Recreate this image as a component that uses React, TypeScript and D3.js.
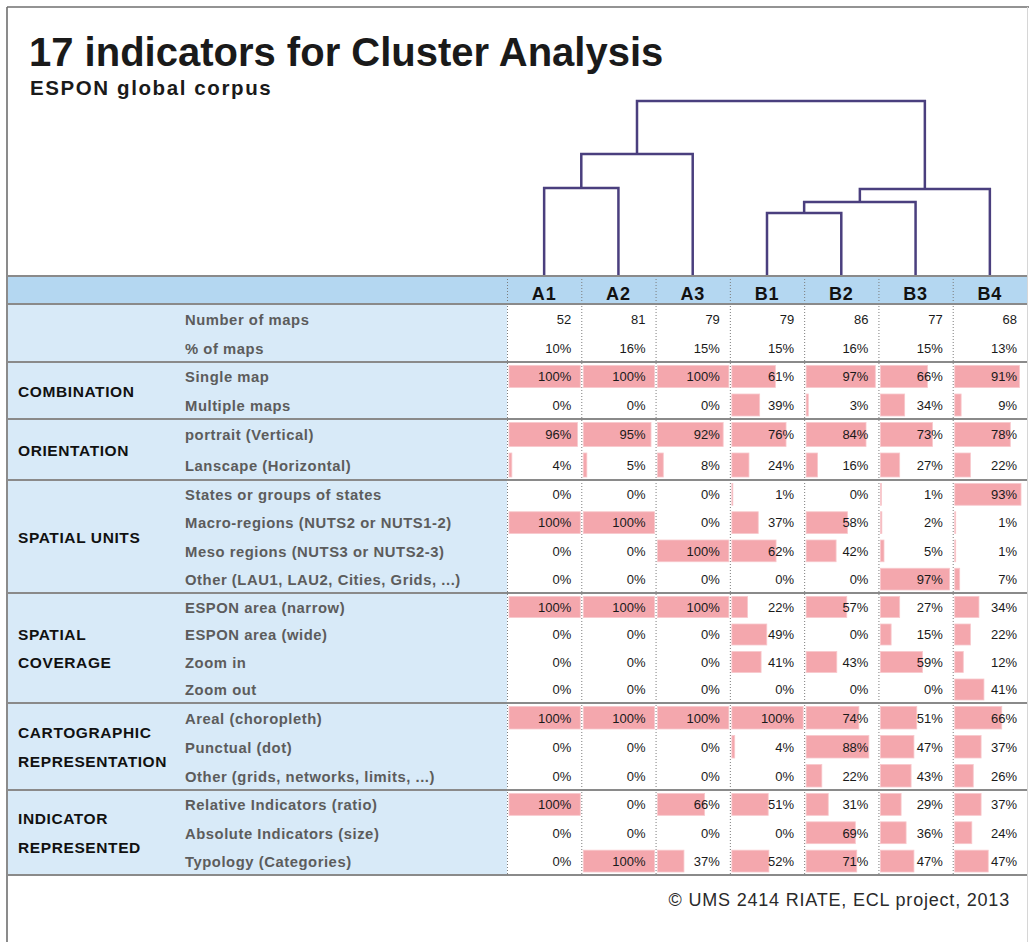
import React from "react";
import * as d3 from "d3";

// ---------- DATA ----------
const CLUSTERS = ["A1", "A2", "A3", "B1", "B2", "B3", "B4"];

const NUMBER_OF_MAPS = [52, 81, 79, 79, 86, 77, 68];
const SHARE_OF_MAPS = [10, 16, 15, 15, 16, 15, 13];

const SINGLE_MAP = [100, 100, 100, 61, 97, 66, 91];
const MULTIPLE_MAPS = [0, 0, 0, 39, 3, 34, 9];

const PORTRAIT = [96, 95, 92, 76, 84, 73, 78];
const LANDSCAPE = [4, 5, 8, 24, 16, 27, 22];

const STATES = [0, 0, 0, 1, 0, 1, 93];
const MACRO_REGIONS = [100, 100, 0, 37, 58, 2, 1];
const MESO_REGIONS = [0, 0, 100, 62, 42, 5, 1];
const OTHER_UNITS = [0, 0, 0, 0, 0, 97, 7];

const ESPON_NARROW = [100, 100, 100, 22, 57, 27, 34];
const ESPON_WIDE = [0, 0, 0, 49, 0, 15, 22];
const ZOOM_IN = [0, 0, 0, 41, 43, 59, 12];
const ZOOM_OUT = [0, 0, 0, 0, 0, 0, 41];

const AREAL = [100, 100, 100, 100, 74, 51, 66];
const PUNCTUAL = [0, 0, 0, 4, 88, 47, 37];
const OTHER_REPR = [0, 0, 0, 0, 22, 43, 26];

const RELATIVE = [100, 0, 66, 51, 31, 29, 37];
const ABSOLUTE = [0, 0, 0, 0, 69, 36, 24];
const TYPOLOGY = [0, 100, 37, 52, 71, 47, 47];

type Row = { label: string; values: number[]; kind: "count" | "share" | "bar" };
type Group = { title: string[]; rows: Row[] };

const GROUPS: Group[] = [
  {
    title: [],
    rows: [
      { label: "Number of maps", values: NUMBER_OF_MAPS, kind: "count" },
      { label: "% of maps", values: SHARE_OF_MAPS, kind: "share" },
    ],
  },
  {
    title: ["COMBINATION"],
    rows: [
      { label: "Single map", values: SINGLE_MAP, kind: "bar" },
      { label: "Multiple maps", values: MULTIPLE_MAPS, kind: "bar" },
    ],
  },
  {
    title: ["ORIENTATION"],
    rows: [
      { label: "portrait (Vertical)", values: PORTRAIT, kind: "bar" },
      { label: "Lanscape (Horizontal)", values: LANDSCAPE, kind: "bar" },
    ],
  },
  {
    title: ["SPATIAL UNITS"],
    rows: [
      { label: "States or groups of states", values: STATES, kind: "bar" },
      { label: "Macro-regions (NUTS2 or NUTS1-2)", values: MACRO_REGIONS, kind: "bar" },
      { label: "Meso regions (NUTS3 or  NUTS2-3)", values: MESO_REGIONS, kind: "bar" },
      { label: "Other (LAU1, LAU2, Cities, Grids, ...)", values: OTHER_UNITS, kind: "bar" },
    ],
  },
  {
    title: ["SPATIAL", "COVERAGE"],
    rows: [
      { label: "ESPON area (narrow)", values: ESPON_NARROW, kind: "bar" },
      { label: "ESPON area (wide)", values: ESPON_WIDE, kind: "bar" },
      { label: "Zoom in", values: ZOOM_IN, kind: "bar" },
      { label: "Zoom out", values: ZOOM_OUT, kind: "bar" },
    ],
  },
  {
    title: ["CARTOGRAPHIC", "REPRESENTATION"],
    rows: [
      { label: "Areal (choropleth)", values: AREAL, kind: "bar" },
      { label: "Punctual (dot)", values: PUNCTUAL, kind: "bar" },
      { label: "Other (grids, networks, limits, ...)", values: OTHER_REPR, kind: "bar" },
    ],
  },
  {
    title: ["INDICATOR", "REPRESENTED"],
    rows: [
      { label: "Relative Indicators (ratio)", values: RELATIVE, kind: "bar" },
      { label: "Absolute Indicators (size)", values: ABSOLUTE, kind: "bar" },
      { label: "Typology (Categories)", values: TYPOLOGY, kind: "bar" },
    ],
  },
];

// Dendrogram: merge heights (distance units)
type DNode = { name?: string; height?: number; children?: DNode[] };
const DENDROGRAM: DNode = {
  height: 174,
  children: [
    { height: 121, children: [{ height: 87, children: [{ name: "A1" }, { name: "A2" }] }, { name: "A3" }] },
    {
      height: 86,
      children: [
        { height: 73, children: [{ height: 62, children: [{ name: "B1" }, { name: "B2" }] }, { name: "B3" }] },
        { name: "B4" },
      ],
    },
  ],
};

const TITLE = "17 indicators for Cluster Analysis";
const SUBTITLE = "ESPON global corpus";
const SOURCE = "© UMS 2414 RIATE, ECL project, 2013";

// ---------- LAYOUT ----------
const W = 1029;
const H = 942;
const FONT = "'Liberation Sans', Arial, sans-serif";
const TABLE_LEFT = 8;
const COL_START = 507;
const COL_END = 1027;
const HEADER_TOP = 276;
const HEADER_BOTTOM = 304;
const DENDRO_TOP = 101;
// pixel height of each group block in the table (layout only)
const GROUP_HEIGHTS = [58, 57, 61, 113, 110, 87, 85];

export default function App() {
  const x = d3.scaleBand<string>().domain(CLUSTERS).range([COL_START, COL_END]);
  const bw = d3.scaleLinear().domain([0, 100]).range([0, x.bandwidth() - 3]);

  const groupTops = [HEADER_BOTTOM, ...d3.cumsum(GROUP_HEIGHTS).map((v) => HEADER_BOTTOM + v)];
  const BODY_BOTTOM = groupTops[groupTops.length - 1];

  // dendrogram
  const root = d3.hierarchy<DNode>(DENDROGRAM);
  const hy = d3.scaleLinear().domain([0, DENDROGRAM.height as number]).range([HEADER_TOP - 1, DENDRO_TOP]);
  const posX = new Map<any, number>();
  const posY = new Map<any, number>();
  root.eachAfter((n) => {
    if (!n.children) {
      posX.set(n, (x(n.data.name as string) as number) + x.bandwidth() / 2);
      posY.set(n, hy(0));
    } else {
      posX.set(n, d3.mean(n.children, (c) => posX.get(c) as number) as number);
      posY.set(n, hy(n.data.height as number));
    }
  });
  const dendroPaths: string[] = [];
  root.each((n) => {
    if (!n.children) return;
    const [a, b] = n.children;
    const p = d3.path();
    p.moveTo(posX.get(a)!, posY.get(a)!);
    p.lineTo(posX.get(a)!, posY.get(n)!);
    p.lineTo(posX.get(b)!, posY.get(n)!);
    p.lineTo(posX.get(b)!, posY.get(b)!);
    dendroPaths.push(p.toString());
  });

  return (
    <svg
      width={W}
      height={H}
      style={{ position: "absolute", left: 0, top: 0, background: "#fff" }}
      fontFamily={FONT}
    >
      <rect x={0} y={0} width={W} height={H} fill="#fff" />
      {/* frame */}
      <line x1={7} y1={7} x2={W} y2={7} stroke="#6f6f6f" strokeWidth={1.6} />
      <line x1={7} y1={7} x2={7} y2={H} stroke="#6f6f6f" strokeWidth={1.6} />
      <line x1={COL_END + 0.5} y1={7} x2={COL_END + 0.5} y2={H} stroke="#d6d6d6" strokeWidth={1} />

      {/* titles */}
      <text x={29} y={66} fontSize={40} fontWeight="bold" fill="#1a1a1a">
        {TITLE}
      </text>
      <text x={30} y={95} fontSize={20.5} fontWeight="bold" fill="#1a1a1a" letterSpacing={1.6}>
        {SUBTITLE}
      </text>

      {/* dendrogram */}
      {dendroPaths.map((d, i) => (
        <path key={i} d={d} fill="none" stroke="#4a3f7e" strokeWidth={2.5} />
      ))}

      {/* header row */}
      <rect x={TABLE_LEFT} y={HEADER_TOP} width={COL_END - TABLE_LEFT} height={HEADER_BOTTOM - HEADER_TOP} fill="#b4d7f1" />
      {CLUSTERS.map((c) => (
        <text
          key={c}
          x={(x(c) as number) + x.bandwidth() / 2}
          y={HEADER_BOTTOM - 4}
          textAnchor="middle"
          fontSize={18}
          fontWeight="bold"
          letterSpacing={0.8}
          fill="#111"
        >
          {c}
        </text>
      ))}

      {/* left blue label area */}
      <rect x={TABLE_LEFT} y={HEADER_BOTTOM} width={COL_START - TABLE_LEFT} height={BODY_BOTTOM - HEADER_BOTTOM} fill="#d8eaf8" />

      {/* rows */}
      {GROUPS.map((g, gi) => {
        const gTop = groupTops[gi];
        const gBottom = groupTops[gi + 1];
        const y = d3
          .scaleBand<number>()
          .domain(d3.range(g.rows.length))
          .range([gTop, gBottom]);
        const rowH = y.bandwidth();
        const mid = (gTop + gBottom) / 2;
        return (
          <g key={gi}>
            {g.rows.map((r, ri) => {
              const top = y(ri) as number;
              const cy = top + rowH / 2;
              return (
                <g key={ri}>
                  <text x={185} y={cy + 6} fontSize={14.8} fontWeight="bold" letterSpacing={0.55} fill="#5c5c5c">
                    {r.label}
                  </text>
                  {r.values.map((v, ci) => {
                    const cx = x(CLUSTERS[ci]) as number;
                    return (
                      <g key={ci}>
                        {r.kind === "bar" && v > 0 && (
                          <rect
                            x={cx + 2}
                            y={top + 3.5}
                            width={Math.max(bw(v), 1)}
                            height={rowH - 6.5}
                            fill="#f4a7ad"
                            stroke="#f8c8cc"
                            strokeWidth={0.8}
                          />
                        )}
                        <text
                          x={cx + x.bandwidth() - 10}
                          y={cy + 5}
                          textAnchor="end"
                          fontSize={13}
                          fill="#1a1a1a"
                        >
                          {r.kind === "count" ? `${v}` : `${v}%`}
                        </text>
                      </g>
                    );
                  })}
                </g>
              );
            })}
            {g.title.length > 0 && (
              <text fontSize={15.5} fontWeight="bold" letterSpacing={0.6} fill="#111">
                {g.title.map((t, ti) => {
                  const off = g.title.length === 1 ? 0 : (ti - 0.5) * 28.5;
                  return (
                    <tspan key={ti} x={18} y={mid + off + 6}>
                      {t}
                    </tspan>
                  );
                })}
              </text>
            )}
          </g>
        );
      })}

      {/* vertical dotted column lines */}
      {CLUSTERS.map((c) => (
        <line
          key={c}
          x1={(x(c) as number) + 0.5}
          y1={HEADER_TOP}
          x2={(x(c) as number) + 0.5}
          y2={BODY_BOTTOM}
          stroke="#7c7c7c"
          strokeWidth={1}
          strokeDasharray="1,2"
        />
      ))}

      {/* horizontal separators */}
      <line x1={TABLE_LEFT} y1={HEADER_TOP} x2={COL_END} y2={HEADER_TOP} stroke="#8a8a8a" strokeWidth={2} />
      {groupTops.map((t, i) => (
        <line key={i} x1={TABLE_LEFT} y1={t} x2={COL_END} y2={t} stroke="#8a8a8a" strokeWidth={2} />
      ))}

      {/* source */}
      <text x={1010} y={906} textAnchor="end" fontSize={18} letterSpacing={0.8} fill="#2a2a2a">
        {SOURCE}
      </text>
    </svg>
  );
}
